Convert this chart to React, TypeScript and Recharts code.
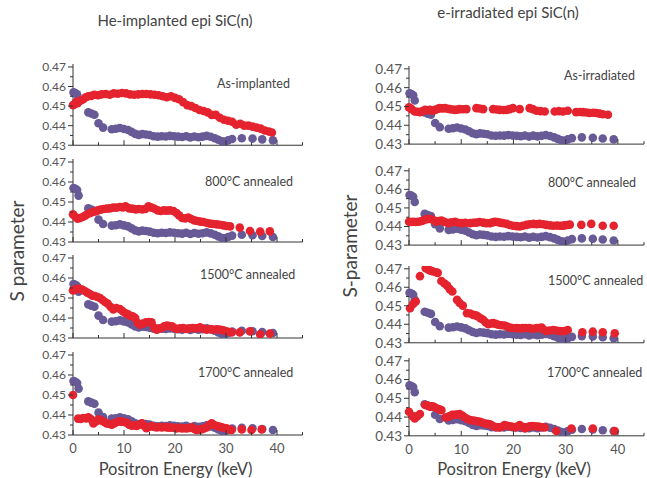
import React from "react";
import { ScatterChart, Scatter, XAxis, YAxis } from "recharts";

// Reference sample (purple), same in every panel
const REF: [number, number][] = [
  [0.1, 0.457], [0.45, 0.4566], [0.8, 0.456], [1.1, 0.4532], [3.0, 0.4468], [3.6, 0.4462], [4.2, 0.4456],
  [5.0, 0.4412], [5.9, 0.439], [7.6, 0.4382], [8.4, 0.4384], [9.2, 0.4388], [10.0, 0.4383], [10.8, 0.4378],
  [11.5, 0.4368], [12.2, 0.4358], [12.9, 0.4353], [13.6, 0.4357], [14.3, 0.4355], [15.0, 0.4352], [15.8, 0.4346],
  [16.6, 0.4344], [17.4, 0.4346], [18.2, 0.4345], [19.0, 0.4348], [19.8, 0.4346], [20.6, 0.4344], [21.4, 0.4342],
  [22.2, 0.4346], [23.0, 0.434], [23.8, 0.4345], [24.6, 0.4341], [25.4, 0.4344], [26.2, 0.4348], [27.0, 0.4343],
  [27.8, 0.4336], [28.5, 0.4328], [29.2, 0.432], [29.8, 0.4318], [30.4, 0.4325], [31.2, 0.4332], [33.1, 0.4336],
  [35.2, 0.4334], [37.1, 0.433], [39.2, 0.4325],
];

// He-implanted
const HE_AS: [number, number][] = [
  [0, 0.4505], [0.3, 0.451], [0.6, 0.452], [0.9, 0.4515], [1.2, 0.4525], [1.6, 0.453], [2.0, 0.4535], [2.5, 0.4545],
  [3.0, 0.455], [3.6, 0.4552], [4.2, 0.4558], [4.9, 0.4555], [5.6, 0.456], [6.4, 0.4562], [7.2, 0.4558], [8.0, 0.4565],
  [8.8, 0.4563], [9.6, 0.4567], [10.4, 0.4565], [11.2, 0.456], [12.0, 0.4558], [12.8, 0.456], [13.6, 0.4562],
  [14.4, 0.4562], [15.2, 0.456], [16.0, 0.4558], [16.8, 0.4555], [17.6, 0.455], [18.4, 0.4545], [19.2, 0.455],
  [20.0, 0.4542], [20.8, 0.4535], [21.6, 0.452], [22.4, 0.4505], [23.2, 0.45], [24.0, 0.449], [24.8, 0.448],
  [25.6, 0.4475], [26.4, 0.4468], [27.2, 0.4455], [28.0, 0.4455], [28.8, 0.444], [29.6, 0.443], [30.4, 0.4425],
  [31.2, 0.442], [32.0, 0.4405], [32.8, 0.441], [33.6, 0.44], [34.4, 0.44], [35.2, 0.4395], [36.0, 0.439],
  [36.8, 0.4385], [37.6, 0.4375], [38.4, 0.437], [39.0, 0.4365],
];
const HE_800: [number, number][] = [
  [0, 0.4438], [0.5, 0.4425], [0.9, 0.4417], [1.4, 0.442], [1.9, 0.4425], [2.4, 0.4432], [2.9, 0.444], [3.4, 0.4445],
  [3.9, 0.445], [4.4, 0.4453], [4.9, 0.4458], [5.4, 0.4462], [6.0, 0.4465], [6.6, 0.4467], [7.2, 0.4468], [7.9, 0.4472],
  [8.5, 0.4472], [9.2, 0.4475], [9.8, 0.4473], [10.3, 0.4478], [11.0, 0.4468], [11.6, 0.4467], [12.3, 0.4463],
  [12.9, 0.4465], [13.6, 0.4463], [14.2, 0.4465], [14.8, 0.4478], [15.4, 0.4472], [16.0, 0.4466], [16.6, 0.4458],
  [17.2, 0.4455], [17.8, 0.4458], [18.4, 0.4457], [19.0, 0.4458], [19.7, 0.4455], [20.3, 0.4445], [20.8, 0.4433],
  [21.4, 0.442], [22.0, 0.4418], [22.6, 0.4422], [23.2, 0.4415], [23.8, 0.4408], [24.4, 0.4405], [25.0, 0.4402],
  [25.6, 0.44], [26.3, 0.4395], [26.9, 0.4392], [27.5, 0.439], [28.2, 0.4388], [28.8, 0.4386], [29.5, 0.4383],
  [30.1, 0.438], [30.8, 0.4378], [32.7, 0.4372], [34.7, 0.4355], [36.7, 0.4352], [38.6, 0.4353],
];
const HE_1500: [number, number][] = [
  [0, 0.4538], [0.4, 0.4542], [0.8, 0.4546], [1.3, 0.4545], [1.8, 0.4542], [2.3, 0.4535], [2.8, 0.4527], [3.3, 0.452],
  [3.8, 0.4512], [4.3, 0.451], [4.8, 0.4505], [5.3, 0.45], [5.8, 0.449], [6.3, 0.448], [6.8, 0.4472], [7.4, 0.4455],
  [7.9, 0.4443], [8.5, 0.445], [9.2, 0.4445], [9.7, 0.4435], [10.2, 0.4425], [10.7, 0.442], [11.2, 0.4412],
  [11.7, 0.4408], [12.2, 0.44], [12.7, 0.4375], [13.2, 0.4367], [13.7, 0.4372], [14.3, 0.4378], [14.9, 0.438],
  [15.4, 0.4378], [15.9, 0.4352], [16.4, 0.4342], [16.9, 0.4348], [17.4, 0.435], [17.9, 0.4358], [18.4, 0.4362],
  [18.9, 0.436], [19.4, 0.4358], [19.9, 0.435], [20.4, 0.4345], [21.0, 0.4348], [21.6, 0.435], [22.2, 0.4345],
  [22.8, 0.4348], [23.5, 0.435], [24.2, 0.4348], [24.9, 0.4353], [25.5, 0.4347], [26.2, 0.4342], [26.9, 0.4345],
  [27.5, 0.4342], [28.2, 0.4344], [28.8, 0.4342], [29.5, 0.4338], [30.1, 0.4334], [30.7, 0.433], [31.1, 0.4328],
  [32.7, 0.4328], [34.7, 0.4333], [36.7, 0.4318], [38.6, 0.4322],
];
const HE_1700: [number, number][] = [
  [0, 0.45], [1.0, 0.4382], [1.5, 0.438], [2.0, 0.4385], [2.6, 0.4383], [3.0, 0.4388], [3.5, 0.438], [4.0, 0.4358],
  [4.5, 0.4368], [5.0, 0.4378], [5.6, 0.4372], [6.1, 0.4365], [6.6, 0.4358], [7.1, 0.4355], [7.6, 0.4352],
  [8.1, 0.4358], [8.6, 0.4365], [9.1, 0.4368], [9.5, 0.4367], [10.0, 0.4365], [10.5, 0.4362], [11.0, 0.4352],
  [11.5, 0.4346], [12.0, 0.4348], [12.5, 0.4345], [13.0, 0.4352], [13.5, 0.4358], [14.0, 0.4345], [14.4, 0.4334],
  [14.9, 0.434], [15.4, 0.4345], [15.9, 0.434], [16.4, 0.4338], [16.9, 0.434], [17.4, 0.4338], [17.9, 0.434],
  [18.4, 0.4338], [18.9, 0.4336], [19.3, 0.4338], [19.8, 0.4335], [20.3, 0.4333], [20.8, 0.4336], [21.3, 0.4333],
  [21.8, 0.4334], [22.3, 0.4333], [22.8, 0.4335], [23.3, 0.4338], [23.8, 0.433], [24.2, 0.4325], [24.7, 0.4327],
  [25.2, 0.4328], [25.7, 0.4333], [26.2, 0.4338], [26.7, 0.435], [27.2, 0.4358], [27.7, 0.435], [28.2, 0.4345],
  [28.7, 0.4342], [29.2, 0.4338], [29.7, 0.4335], [30.1, 0.4333], [30.6, 0.4328], [31.1, 0.4325], [33.1, 0.4328],
  [35.0, 0.4325], [37.0, 0.4328],
];

// e-irradiated
const E_AS: [number, number][] = [
  [0, 0.4495], [0.5, 0.4486], [1.1, 0.4473], [1.6, 0.4472], [2.1, 0.447], [2.6, 0.4476], [3.1, 0.4482], [3.6, 0.448],
  [4.0, 0.4482], [4.5, 0.4478], [5.0, 0.4482], [5.5, 0.4487], [5.9, 0.4491], [6.4, 0.449], [6.9, 0.4491], [7.4, 0.4488],
  [7.8, 0.4486], [8.3, 0.4484], [8.8, 0.4482], [9.3, 0.4484], [9.7, 0.4486], [10.3, 0.4485], [11.0, 0.4486],
  [12.9, 0.4491], [13.5, 0.4489], [14.2, 0.4486], [16.1, 0.4486], [16.8, 0.4484], [17.4, 0.4482], [18.1, 0.4481],
  [18.7, 0.4482], [19.3, 0.4486], [19.9, 0.4491], [21.2, 0.4486], [23.1, 0.4491], [23.7, 0.4486], [24.4, 0.4477],
  [25.2, 0.4475], [26.0, 0.4473], [27.9, 0.4473], [28.7, 0.4475], [29.5, 0.4473], [30.4, 0.4477], [32.0, 0.447],
  [32.7, 0.4471], [33.3, 0.447], [34.0, 0.4468], [34.6, 0.4465], [35.3, 0.4467], [35.9, 0.4465], [36.5, 0.4462],
  [37.1, 0.4459], [38.1, 0.4456],
];
const E_800: [number, number][] = [
  [0, 0.4426], [0.4, 0.4424], [0.8, 0.4426], [1.3, 0.4424], [1.8, 0.4426], [2.3, 0.4428], [2.7, 0.4432], [3.2, 0.4438],
  [3.6, 0.4441], [4.3, 0.4439], [4.8, 0.4432], [5.2, 0.4426], [5.7, 0.443], [6.2, 0.4432], [6.8, 0.4425], [7.5, 0.4418],
  [8.1, 0.4422], [8.8, 0.4426], [9.4, 0.442], [10.1, 0.4418], [10.8, 0.442], [11.7, 0.4418], [12.3, 0.442],
  [12.9, 0.4421], [13.5, 0.4424], [14.2, 0.4421], [14.8, 0.4418], [15.5, 0.4418], [16.0, 0.4422], [16.4, 0.4426],
  [16.9, 0.4424], [17.4, 0.4421], [18.0, 0.4418], [18.7, 0.4414], [19.3, 0.4408], [19.9, 0.4404], [20.6, 0.4402],
  [21.2, 0.44], [21.8, 0.4404], [22.5, 0.4409], [23.1, 0.4412], [23.8, 0.4414], [24.4, 0.4412], [25.0, 0.4414],
  [25.7, 0.4412], [26.3, 0.4409], [27.0, 0.4406], [27.6, 0.4404], [28.3, 0.4405], [28.9, 0.4404], [29.4, 0.4404],
  [29.8, 0.4406], [30.3, 0.4408], [30.8, 0.441], [33.0, 0.4409], [34.9, 0.4414], [37.1, 0.4404], [39.2, 0.4404],
];
const E_1500: [number, number][] = [
  [0.2, 0.4487], [0.8, 0.451], [1.3, 0.4523], [2.1, 0.466], [3.2, 0.4703], [3.7, 0.4695], [4.1, 0.469], [4.6, 0.4685],
  [5.2, 0.4681], [5.5, 0.4678], [6.2, 0.4634], [6.8, 0.462], [7.3, 0.4609], [7.8, 0.459], [8.3, 0.4577], [9.2, 0.4532],
  [9.7, 0.4515], [10.3, 0.4501], [11.1, 0.446], [11.7, 0.4458], [12.3, 0.4451], [12.8, 0.4448], [13.2, 0.4442],
  [13.7, 0.4432], [14.2, 0.4424], [14.7, 0.441], [15.2, 0.44], [15.7, 0.4404], [16.1, 0.4406], [16.6, 0.4402],
  [17.1, 0.4397], [17.7, 0.4395], [18.3, 0.4393], [18.8, 0.4388], [19.3, 0.4382], [19.9, 0.438], [20.6, 0.4379],
  [21.2, 0.4378], [21.8, 0.4379], [22.4, 0.438], [23.1, 0.4379], [23.7, 0.4376], [24.4, 0.4379], [24.9, 0.438],
  [25.4, 0.4382], [25.8, 0.437], [26.3, 0.4364], [26.9, 0.4366], [27.6, 0.4369], [28.2, 0.4366], [28.9, 0.4364],
  [29.4, 0.4362], [29.8, 0.4364], [30.4, 0.4369], [33.2, 0.4357], [35.2, 0.436], [37.1, 0.4357], [39.4, 0.4351],
];
const E_1700: [number, number][] = [
  [0, 0.4428], [0.7, 0.4405], [1.1, 0.4393], [1.6, 0.4405], [2.1, 0.4416], [3.1, 0.4464], [3.6, 0.446], [4.0, 0.4455],
  [4.4, 0.4457], [4.8, 0.4455], [5.4, 0.4446], [5.8, 0.4442], [6.2, 0.4437], [7.0, 0.4398], [7.4, 0.44], [7.8, 0.4405],
  [8.3, 0.4412], [8.8, 0.4412], [9.2, 0.4414], [9.7, 0.4416], [10.2, 0.4408], [10.7, 0.4398], [11.2, 0.439],
  [11.7, 0.4384], [12.2, 0.4382], [12.6, 0.438], [13.1, 0.4378], [13.6, 0.4375], [14.1, 0.437], [14.5, 0.4366],
  [15.0, 0.4364], [15.5, 0.4362], [15.9, 0.4355], [16.4, 0.4348], [16.9, 0.4346], [17.4, 0.4344], [17.9, 0.435],
  [18.3, 0.4357], [18.8, 0.4354], [19.3, 0.4351], [19.8, 0.4348], [20.3, 0.4344], [20.7, 0.435], [21.2, 0.4357],
  [21.7, 0.4348], [22.2, 0.4339], [22.6, 0.4345], [23.1, 0.4351], [23.6, 0.4352], [24.1, 0.4351], [24.6, 0.4349],
  [25.0, 0.4348], [25.5, 0.4346], [26.0, 0.4344], [28.2, 0.4326], [31.1, 0.4339], [35.2, 0.4339], [39.4, 0.4326],
];

const X_TICKS = [0, 5, 10, 15, 20, 25, 30, 35, 40, 45];
const Y_TICKS = [0.43, 0.435, 0.44, 0.445, 0.45, 0.455, 0.46, 0.465, 0.47];
const Y_MAX = 0.4715;

const PURPLE = "#675a96";
const RED = "#e5232e";
const AXIS = "#333";
const TEXT = "#555";
const FONT = "Lato, 'DejaVu Sans', sans-serif";

const toPts = (arr: [number, number][]) => arr.map(([e, s]) => ({ e, s }));

const dot = (color: string) => (p: any) => <circle cx={p.cx} cy={p.cy} r={4.3} fill={color} />;

interface PanelProps {
  x0: number;
  x45: number;
  y43: number;
  y47: number;
  red: [number, number][];
  showX: boolean;
  fs: number;
}

function Panel({ x0, x45, y43, y47, red, showX, fs }: PanelProps) {
  const pxPer = (y43 - y47) / 0.04;
  const plotTop = y47 - pxPer * (Y_MAX - 0.47);
  const plotH = y43 - plotTop;
  const plotW = x45 - x0;
  const YW = 45;
  const MT = 4;
  const MR = 2;
  const XH = 30;

  const xTick = (p: any) => {
    const v = p.payload.value;
    const major = v % 10 === 0;
    return (
      <g>
        <line x1={p.x} x2={p.x} y1={p.y} y2={p.y - (major ? 5 : 3)} stroke={AXIS} />
        {showX && major && (
          <text x={p.x} y={p.y + 18} textAnchor="middle" fontSize={13} fill={TEXT} fontFamily={FONT}>
            {v}
          </text>
        )}
      </g>
    );
  };

  const yTick = (p: any) => {
    const v = p.payload.value;
    const major = Math.round(v * 1000) % 10 === 0;
    return (
      <g>
        <line x1={p.x - (major ? 5 : 3)} x2={p.x} y1={p.y} y2={p.y} stroke={AXIS} />
        {major && (
          <text x={p.x - 7} y={p.y} dy="0.36em" textAnchor="end" fontSize={fs} fill={TEXT} fontFamily={FONT}>
            {v.toFixed(2)}
          </text>
        )}
      </g>
    );
  };

  return (
    <div style={{ position: "absolute", left: x0 - YW, top: plotTop - MT }}>
      <ScatterChart
        width={YW + plotW + MR}
        height={MT + plotH + XH}
        margin={{ top: MT, right: MR, bottom: 0, left: 0 }}
      >
        <XAxis
          type="number"
          dataKey="e"
          domain={[0, 45]}
          ticks={X_TICKS}
          interval={0}
          height={XH}
          tickSize={0}
          tickMargin={0}
          tickLine={false}
          axisLine={{ stroke: AXIS }}
          tick={xTick}
        />
        <YAxis
          type="number"
          dataKey="s"
          domain={[0.43, Y_MAX]}
          ticks={Y_TICKS}
          interval={0}
          width={YW}
          tickSize={0}
          tickMargin={0}
          tickLine={false}
          axisLine={{ stroke: AXIS }}
          tick={yTick}
          allowDataOverflow
        />
        <Scatter data={toPts(REF)} fill={PURPLE} shape={dot(PURPLE)} isAnimationActive={false} />
        <Scatter data={toPts(red)} fill={RED} shape={dot(RED)} isAnimationActive={false} />
      </ScatterChart>
    </div>
  );
}

const LEFT = { x0: 73, x45: 302.5 };
const RIGHT = { x0: 409, x45: 644 };

export default function App() {
  return (
    <div
      style={{
        position: "absolute",
        left: 0,
        top: 0,
        width: 647,
        height: 478,
        background: "#fff",
        overflow: "hidden",
        fontFamily: FONT,
      }}
    >
      <Panel {...LEFT} y43={145} y47={66.7} red={HE_AS} showX={false} fs={12} />
      <Panel {...LEFT} y43={241.7} y47={161.7} red={HE_800} showX={false} fs={12} />
      <Panel {...LEFT} y43={337.7} y47={257.7} red={HE_1500} showX={false} fs={12} />
      <Panel {...LEFT} y43={435} y47={355} red={HE_1700} showX={true} fs={12} />

      <Panel {...RIGHT} y43={144.3} y47={69} red={E_AS} showX={false} fs={13.5} />
      <Panel {...RIGHT} y43={245} y47={170.7} red={E_800} showX={false} fs={13.5} />
      <Panel {...RIGHT} y43={342.3} y47={268.3} red={E_1500} showX={false} fs={13.5} />
      <Panel {...RIGHT} y43={435.7} y47={360.7} red={E_1700} showX={true} fs={13.5} />

      <svg
        width={647}
        height={478}
        style={{ position: "absolute", left: 0, top: 0, pointerEvents: "none" }}
        fontFamily={FONT}
      >
        <text x={175} y={26} textAnchor="middle" fontSize={15} fill="#444">He-implanted epi SiC(n)</text>
        <text x={508} y={18} textAnchor="middle" fontSize={15} fill="#444">e-irradiated epi SiC(n)</text>

        <text x={24} y={251} textAnchor="middle" fontSize={19} fill="#444" transform="rotate(-90, 24, 251)">
          S parameter
        </text>
        <text x={357} y={246} textAnchor="middle" fontSize={19} fill="#444" transform="rotate(-90, 357, 246)">
          S-parameter
        </text>

        <text x={175.5} y={474.5} textAnchor="middle" fontSize={16.5} fill="#444">Positron Energy (keV)</text>
        <text x={514} y={474.5} textAnchor="middle" fontSize={16.5} fill="#444">Positron Energy (keV)</text>

        <g fontSize={12.5} fill="#444">
          <text x={217} y={88}>As-implanted</text>
          <text x={205} y={186}>800°C annealed</text>
          <text x={200} y={279}>1500°C annealed</text>
          <text x={198} y={377}>1700°C annealed</text>
          <text x={564} y={80}>As-irradiated</text>
          <text x={548} y={187}>800°C annealed</text>
          <text x={548} y={285}>1500°C annealed</text>
          <text x={547} y={377}>1700°C annealed</text>
        </g>
      </svg>
    </div>
  );
}
